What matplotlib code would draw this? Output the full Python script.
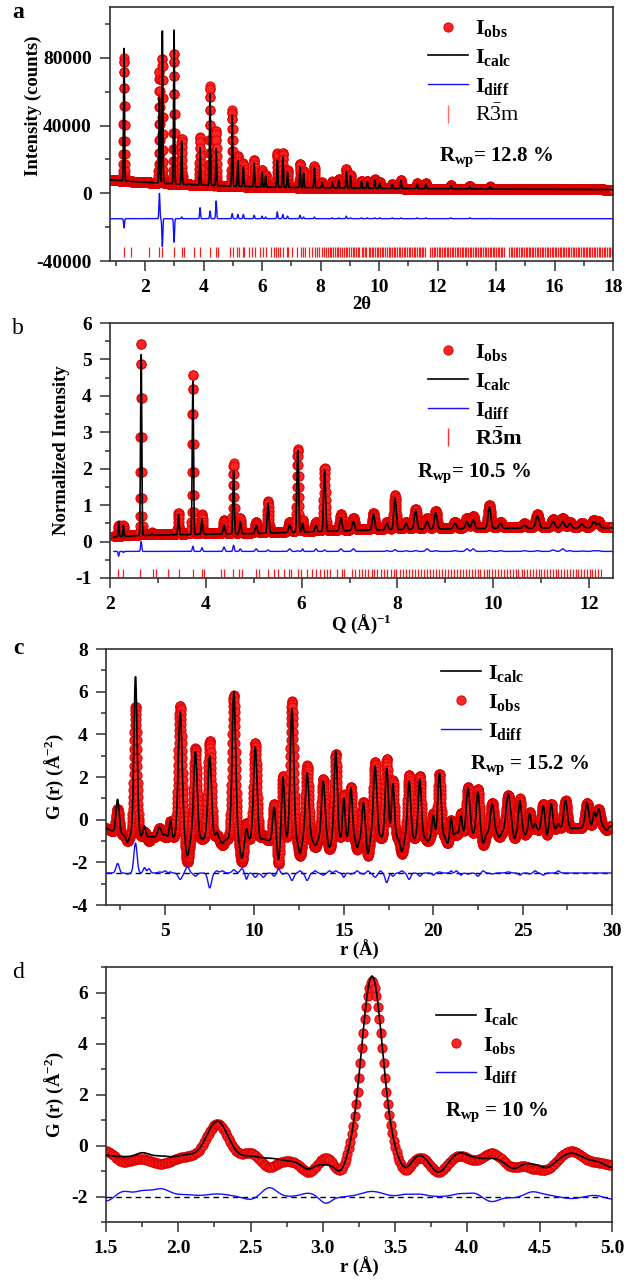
import numpy as np
import matplotlib
matplotlib.use('Agg')
import matplotlib.pyplot as plt
from matplotlib.lines import Line2D
from matplotlib.ticker import MultipleLocator, FormatStrFormatter

plt.rcParams['font.family'] = ['Liberation Serif', 'DejaVu Serif']
plt.rcParams['font.weight'] = 'bold'
plt.rcParams['mathtext.fontset'] = 'custom'
plt.rcParams['mathtext.rm'] = 'Liberation Serif:weight=normal'
plt.rcParams['mathtext.bf'] = 'Liberation Serif:bold'
plt.rcParams['mathtext.it'] = 'Liberation Serif:italic'
plt.rcParams['axes.unicode_minus'] = False

# ---------------- Panel a : XRD, 2theta ----------------
a_range = [0.8, 18.0]
a_step = 0.004
a_bg_x = [0.8, 1.5, 2.0, 3.0, 4.0, 5.0, 6.0, 8.0, 10.0, 14.0, 18.0]
a_bg_y = [8000, 7000, 6500, 5600, 4800, 4200, 3700, 3200, 2900, 2500, 2200]
a_pos = [1.28, 2.49, 2.59, 2.99, 3.25, 3.88, 4.22, 4.43, 4.98, 5.17, 5.36, 5.73,
         6.00, 6.12, 6.52, 6.71, 6.87, 7.30, 7.42, 7.79, 8.05, 8.40, 8.62, 8.88,
         9.02, 9.40, 9.60, 9.85, 10.02, 10.45, 10.75, 11.30, 11.60, 12.45, 13.10, 13.80]
a_obs = [80000, 72000, 80000, 83000, 32000, 33500, 63500, 37000, 49000, 22000, 18000, 20000,
         14000, 11000, 23500, 24000, 14000, 17500, 13000, 16000, 6500, 7000, 8500, 14500,
         11000, 7500, 7500, 8500, 6500, 5500, 8000, 6000, 6000, 5000, 4500, 4000]
a_calc = [85500, 57000, 96500, 97000, 31000, 27000, 59000, 26500, 46000, 19500, 15500, 18000,
          12500, 10000, 19500, 21500, 12500, 15500, 12000, 15000, 6500, 6500, 8000, 13000,
          10500, 7000, 7000, 8000, 6000, 5000, 7500, 5500, 5500, 4500, 4000, 3800]
a_width = 0.016
a_diff_offset = -15000
a_refl = [1.28, 1.51, 2.14, 2.49, 2.58, 2.99, 3.25, 3.33, 3.68, 3.88, 4.22, 4.43, 4.51,
          4.91, 4.99, 5.14, 5.21, 5.35, 5.39, 5.57, 5.65, 5.75, 5.94, 6.04, 6.14, 6.29,
          6.40, 6.49, 6.54, 6.61, 6.72, 6.84, 6.88, 7.03, 7.20, 7.32, 7.39, 7.46, 7.60,
          7.72, 7.81, 7.89, 7.96, 8.05, 8.12, 8.18, 8.24, 8.31, 8.36, 8.42, 8.49, 8.55,
          8.61, 8.66, 8.73, 8.80, 8.86, 8.91, 8.97, 9.04, 9.10, 9.15, 9.22, 9.28, 9.33,
          9.40, 9.46, 9.51, 9.57, 9.64, 9.69, 9.75, 9.81, 9.86, 9.93, 9.98, 10.04, 10.10,
          10.15, 10.21, 10.27, 10.33, 10.38, 10.44, 10.50, 10.55, 10.61, 10.67, 10.72,
          10.78, 10.84, 10.89, 10.95, 11.01, 11.06, 11.12, 11.18, 11.23, 11.29, 11.35,
          11.40, 11.46, 11.52, 11.57, 11.75, 11.81, 11.87, 11.92, 11.98, 12.04, 12.09,
          12.15, 12.21, 12.26, 12.32, 12.37, 12.43, 12.49, 12.54, 12.60, 12.66, 12.71,
          12.77, 12.82, 12.88, 12.94, 12.99, 13.05, 13.10, 13.16, 13.22, 13.27, 13.33,
          13.38, 13.44, 13.50, 13.55, 13.61, 13.66, 13.72, 13.78, 13.83, 13.89, 13.94,
          14.00, 14.06, 14.11, 14.17, 14.22, 14.28, 14.45, 14.50, 14.56, 14.62, 14.67,
          14.73, 14.78, 14.84, 14.89, 14.95, 15.01, 15.06, 15.12, 15.17, 15.23, 15.28,
          15.34, 15.40, 15.45, 15.51, 15.56, 15.62, 15.67, 15.73, 15.79, 15.84, 15.90,
          15.95, 16.01, 16.06, 16.12, 16.18, 16.23, 16.29, 16.34, 16.40, 16.45, 16.51,
          16.57, 16.62, 16.68, 16.73, 16.79, 16.84, 16.90, 16.96, 17.01, 17.07, 17.12,
          17.18, 17.23, 17.29, 17.35, 17.40, 17.46, 17.51, 17.57, 17.62, 17.68, 17.74,
          17.79, 17.85, 17.90, 17.96]

# ---------------- Panel b : neutron, Q ----------------
b_range = [2.08, 12.5]
b_step = 0.004
b_bg_x = [2.05, 2.5, 3.0, 4.0, 5.0, 6.0, 7.0, 8.0, 9.0, 10.0, 11.0, 12.5]
b_bg_y = [0.12, 0.16, 0.18, 0.20, 0.22, 0.26, 0.30, 0.33, 0.35, 0.36, 0.37, 0.38]
b_pos = [2.18, 2.28, 2.65, 2.88, 3.43, 3.73, 3.92, 4.38, 4.58, 4.72, 5.05, 5.30,
         5.75, 5.92, 6.02, 6.30, 6.48, 6.82, 7.08, 7.50, 7.78, 7.95, 8.18, 8.38,
         8.62, 8.80, 9.20, 9.45, 9.58, 9.92, 10.15, 10.65, 10.92, 11.25, 11.45, 11.60,
         11.85, 12.10, 12.20]
b_obs = [0.45, 0.45, 5.50, 0.25, 0.78, 4.62, 0.75, 0.60, 2.15, 0.65, 0.55, 1.12,
         0.55, 2.55, 0.60, 0.55, 2.02, 0.75, 0.65, 0.78, 0.55, 1.28, 0.55, 0.90,
         0.65, 0.85, 0.55, 0.65, 0.70, 1.00, 0.55, 0.50, 0.75, 0.62, 0.65, 0.55,
         0.52, 0.60, 0.55]
b_calc = [0.55, 0.45, 5.20, 0.22, 0.75, 4.45, 0.62, 0.45, 1.95, 0.55, 0.45, 1.05,
          0.45, 2.50, 0.50, 0.45, 1.95, 0.65, 0.55, 0.75, 0.50, 1.20, 0.50, 0.85,
          0.55, 0.80, 0.50, 0.55, 0.60, 0.95, 0.50, 0.45, 0.70, 0.55, 0.55, 0.50,
          0.48, 0.55, 0.50]
b_sig = [0.010, 0.010, 0.012, 0.012, 0.013, 0.013, 0.015, 0.018, 0.014, 0.016, 0.020, 0.018,
         0.025, 0.018, 0.015, 0.020, 0.020, 0.025, 0.025, 0.025, 0.025, 0.025, 0.025, 0.028,
         0.030, 0.028, 0.030, 0.030, 0.030, 0.030, 0.030, 0.035, 0.035, 0.035, 0.035, 0.030,
         0.035, 0.035, 0.030]
b_obs_bg_shift = 0.03
b_diff_offset = -0.3
b_refl = [2.17, 2.28, 2.63, 2.89, 2.95, 3.22, 3.43, 3.73, 3.92, 3.97, 4.32, 4.39, 4.57,
          4.70, 4.76, 5.04, 5.10, 5.29, 5.42, 5.50, 5.63, 5.73, 5.78, 5.92, 5.98, 6.11,
          6.22, 6.30, 6.39, 6.47, 6.54, 6.60, 6.73, 6.84, 6.89, 7.06, 7.11, 7.19, 7.25,
          7.32, 7.38, 7.47, 7.52, 7.58, 7.66, 7.72, 7.78, 7.86, 7.93, 7.98, 8.05, 8.11,
          8.18, 8.24, 8.31, 8.37, 8.42, 8.50, 8.56, 8.62, 8.69, 8.74, 8.81, 8.87, 8.92,
          9.00, 9.06, 9.12, 9.18, 9.25, 9.30, 9.37, 9.43, 9.50, 9.55, 9.61, 9.68, 9.73,
          9.80, 9.86, 9.92, 9.98, 10.04, 10.10, 10.16, 10.23, 10.29, 10.35, 10.41, 10.47,
          10.52, 10.59, 10.65, 10.71, 10.77, 10.83, 10.89, 10.95, 11.00, 11.07, 11.13,
          11.18, 11.24, 11.30, 11.36, 11.42, 11.48, 11.54, 11.60, 11.66, 11.72, 11.77,
          11.83, 11.89, 11.95, 12.01, 12.07, 12.13, 12.19, 12.25]

# ---------------- Panel c : PDF G(r), 1.7-30 A ----------------
c_range = [1.7, 30.0]
c_step = 0.01
c_bg_x = [1.7, 2.5, 4.0, 12.0, 20.0, 30.0]
c_bg_y = [-0.4, -0.7, -0.8, -1.0, -0.8, -0.3]
c_pos = [2.35, 2.90, 3.35, 3.85, 4.10, 4.70, 5.00, 5.30, 5.85, 6.25, 6.70, 7.05, 7.50,
         7.90, 8.20, 8.85, 9.30, 9.55, 10.05, 10.50, 11.10, 11.35, 11.60, 12.10, 12.55,
         12.95, 13.40, 13.85, 14.20, 14.55, 15.00, 15.40, 15.75, 16.10, 16.35, 16.75,
         17.05, 17.40, 17.75, 18.25, 18.65, 18.95, 19.25, 19.70, 20.00, 20.35, 20.80,
         21.00, 21.30, 21.55, 21.95, 22.50, 22.80, 23.30, 23.70, 24.20, 24.55, 24.85,
         25.15, 25.40, 25.70, 26.15, 26.35, 26.60, 27.00, 27.40, 27.90, 28.60, 29.00,
         29.25, 29.70]
c_obs = [0.50, -1.00, 5.30, -0.55, -1.00, -0.40, -0.80, -0.05, 5.35, -2.00, 3.35, -0.90, 3.70,
         -0.70, -1.20, 5.85, -2.00, -0.10, 3.60, -0.70, 0.75, -2.10, 2.05, 5.55, -1.70,
         2.55, -1.30, 1.90, -1.40, 3.10, 1.20, 1.55, -1.40, 0.85, -1.70, 2.70,
         -0.90, 2.85, 1.85, -1.60, 2.10, -0.90, 2.05, -1.00, 0.30, 2.15, -1.10,
         0.00, -0.70, 0.30, 1.55, 1.45, -1.20, 0.80, -0.80, 1.15, -0.90, 1.00,
         -0.70, 0.35, -0.30, 0.75, -0.80, 0.75, -0.30, 0.90, -0.40, 0.80, 0.30,
         0.50, -0.50]
c_calc = [0.95, -1.05, 6.70, -0.30, -0.80, -0.35, -0.70, 0.00, 5.05, -1.70, 3.20, -0.90, 3.00,
          -0.60, -1.10, 6.00, -1.80, -0.40, 3.40, -0.90, 0.60, -1.90, 2.00, 5.20, -1.60,
          2.20, -1.20, 1.80, -1.30, 3.20, 1.00, 1.50, -1.30, 0.80, -1.60, 2.50,
          -0.80, 2.40, 1.70, -1.50, 1.80, -0.90, 1.90, -1.00, 0.20, 2.20, -1.10,
          0.10, -0.60, 0.20, 1.50, 1.30, -1.10, 0.75, -0.80, 1.20, -0.90, 0.90,
          -0.70, 0.30, -0.20, 0.65, -0.80, 0.75, -0.20, 0.90, -0.40, 0.80, 0.30,
          0.50, -0.50]
c_sig = [0.09, 0.08, 0.09, 0.07, 0.08, 0.10, 0.08, 0.06, 0.11, 0.10, 0.10, 0.08, 0.10,
         0.08, 0.10, 0.10, 0.10, 0.07, 0.10, 0.10, 0.08, 0.07, 0.08, 0.10, 0.08,
         0.10, 0.08, 0.10, 0.08, 0.09, 0.07, 0.08, 0.07, 0.08, 0.07, 0.10,
         0.07, 0.09, 0.08, 0.09, 0.09, 0.07, 0.09, 0.10, 0.07, 0.09, 0.08,
         0.06, 0.07, 0.07, 0.10, 0.09, 0.08, 0.10, 0.08, 0.12, 0.07, 0.08,
         0.07, 0.07, 0.08, 0.09, 0.06, 0.08, 0.08, 0.10, 0.09, 0.10, 0.07,
         0.10, 0.08]
c_diff_offset = -2.5

# ---------------- Panel d : PDF G(r), 1.5-5 A ----------------
d_range = [1.5, 5.0]
d_step = 0.01
d_base = -0.55
d_pos = [1.50, 1.62, 1.75, 1.88, 2.05, 2.27, 2.50, 2.63, 2.77, 2.90, 3.02, 3.12, 3.34,
         3.57, 3.67, 3.80, 3.95, 4.05, 4.17, 4.32, 4.45, 4.55, 4.72, 4.88, 5.00]
d_obs = [-0.20, -0.65, -0.50, -0.72, -0.45, 0.85, -0.30, -0.85, -0.60, -1.05, -0.45, -1.02, 6.45,
         -1.00, -0.45, -1.05, -0.40, -0.62, -0.30, -0.85, -0.85, -0.90, -0.22, -0.65, -0.75]
d_calc = [-0.39, -0.45, -0.30, -0.42, -0.38, 0.95, -0.42, -0.50, -0.60, -0.92, -0.72, -1.04, 6.65,
          -0.92, -0.36, -1.05, -0.29, -0.50, -0.50, -0.90, -0.67, -0.85, -0.30, -0.60, -0.85]
d_sig = [0.05, 0.05, 0.05, 0.06, 0.06, 0.075, 0.05, 0.05, 0.05, 0.05, 0.04, 0.04, 0.072,
         0.04, 0.045, 0.05, 0.05, 0.04, 0.05, 0.05, 0.05, 0.05, 0.06, 0.05, 0.05]
d_diff_offset = -2.0


def peaks(x, base, pos, tops, sig):
    base_arr = np.broadcast_to(np.asarray(base, dtype=float), x.shape)
    y = np.array(base_arr, dtype=float)
    sig = np.broadcast_to(np.asarray(sig, float), np.shape(pos))
    for p, t, s in zip(pos, tops, sig):
        amp = t - np.interp(p, x, base_arr)
        y = y + amp * np.exp(-0.5 * ((x - p) / s) ** 2)
    return y


OBS = dict(linestyle='None', marker='o', ms=6.6, mfc='#ff2424', mec='#d80000', mew=0.7)
CALC = dict(color='black', lw=1.2)
DIFF = dict(color='#1010ff', lw=1.0)
RED = '#ff1a1a'

fig = plt.figure(figsize=(6.36, 12.8), dpi=100)


def add_ax(l, r, t, b):
    return fig.add_axes([l / 636, 1 - b / 1280, (r - l) / 636, (b - t) / 1280])


def style(ax, xmaj, xmin, ymaj, ymin):
    for s in ax.spines.values():
        s.set_color('#303030')
        s.set_linewidth(1.2)
    ax.xaxis.set_major_locator(MultipleLocator(xmaj))
    ax.xaxis.set_minor_locator(MultipleLocator(xmin))
    ax.yaxis.set_major_locator(MultipleLocator(ymaj))
    ax.yaxis.set_minor_locator(MultipleLocator(ymin))
    ax.tick_params(which='both', direction='out', top=False, right=False,
                   colors='#303030', labelcolor='black', labelsize=14, width=1.1)
    ax.tick_params(which='major', length=7, pad=6)
    ax.tick_params(which='minor', length=3.5)
    for lab in ax.get_xticklabels() + ax.get_yticklabels():
        lab.set_fontweight('bold')


LAB = dict(fontsize=13.5, fontweight='bold')
LEG = dict(frameon=False, fontsize=16, handlelength=1.8, handletextpad=0.3,
           borderaxespad=0, numpoints=1)

# ---- a ----
axA = add_ax(110, 613, 7, 261)
xa = np.arange(a_range[0], a_range[1] + 1e-9, a_step)
bga = np.interp(xa, a_bg_x, a_bg_y)
obs_a = peaks(xa, bga, a_pos, a_obs, a_width)
calc_a = peaks(xa, bga, a_pos, a_calc, a_width)
axA.plot(xa, obs_a, zorder=2, **OBS)
axA.plot(xa, calc_a, zorder=3, **CALC)
axA.plot(xa, obs_a - calc_a + a_diff_offset, zorder=3, **DIFF)
axA.vlines(a_refl, -37500, -32000, color=RED, lw=0.9, zorder=2)
axA.set_xlim(0.8, 18)
axA.set_ylim(-40000, 110000)
style(axA, 2, 1, 40000, 20000)
axA.set_xlabel('2θ', labelpad=0, **LAB)
axA.set_ylabel('Intensity (counts)', **LAB)
axA.yaxis.set_label_coords(-0.135, 0.61)
hA = [Line2D([], [], **OBS), Line2D([], [], **CALC), Line2D([], [], **DIFF),
      Line2D([], [], linestyle='None', marker='|', ms=13, mew=1.0, color='#ff6a6a')]
axA.legend(hA, [r'$\mathbf{I_{obs}}$', r'$\mathbf{I_{calc}}$', r'$\mathbf{I_{diff}}$',
                r'$\mathrm{R\bar{3}m}$'],
           loc='upper left', bbox_to_anchor=(0.615, 0.99), labelspacing=0.35, **LEG)
axA.text(0.655, 0.41, r'$\mathbf{R_{wp}}$= 12.8 %', transform=axA.transAxes,
         fontsize=15, fontweight='bold', va='center')

# ---- b ----
axB = add_ax(110, 613, 323, 578)
xb = np.arange(b_range[0], b_range[1] + 1e-9, b_step)
bgb = np.interp(xb, b_bg_x, b_bg_y)
obs_b = peaks(xb, bgb + b_obs_bg_shift, b_pos, b_obs, b_sig)
calc_b = peaks(xb, bgb, b_pos, b_calc, b_sig)
axB.plot(xb, obs_b, zorder=2, **OBS)
axB.plot(xb, calc_b, zorder=3, **CALC)
axB.plot(xb, obs_b - calc_b + b_diff_offset, zorder=3, **DIFF)
axB.vlines(b_refl, -0.97, -0.75, color=RED, lw=0.9, zorder=2)
axB.set_xlim(2, 12.5)
axB.set_ylim(-1, 6)
style(axB, 2, 1, 1, 0.5)
axB.set_xlabel(r'Q (Å)$^{\mathbf{-1}}$', labelpad=0, **LAB)
axB.set_ylabel('Normalized Intensity', labelpad=4, **LAB)
hB = [Line2D([], [], **OBS), Line2D([], [], **CALC), Line2D([], [], **DIFF),
      Line2D([], [], linestyle='None', marker='|', ms=13, mew=1.0, color='#ff3030')]
axB.legend(hB, [r'$\mathbf{I_{obs}}$', r'$\mathbf{I_{calc}}$', r'$\mathbf{I_{diff}}$',
                r'$\mathbf{R\bar{3}m}$'],
           loc='upper left', bbox_to_anchor=(0.615, 0.96), labelspacing=0.35, **LEG)
axB.text(0.61, 0.41, r'$\mathbf{R_{wp}}$= 10.5 %', transform=axB.transAxes,
         fontsize=15, fontweight='bold', va='center')

# ---- c ----
axC = add_ax(106, 612, 649, 905)
xc = np.arange(c_range[0], c_range[1] + 1e-9, c_step)
bgc = np.interp(xc, c_bg_x, c_bg_y)
obs_c = peaks(xc, bgc, c_pos, c_obs, c_sig)
calc_c = peaks(xc, bgc, c_pos, c_calc, c_sig)
axC.plot(xc, obs_c, zorder=2, **OBS)
axC.plot(xc, calc_c, zorder=3, **CALC)
axC.axhline(c_diff_offset, color='black', lw=1.0, ls=(0, (4, 3)), zorder=3)
axC.plot(xc, calc_c - obs_c + c_diff_offset, zorder=4, **DIFF)
axC.set_xlim(1.7, 30)
axC.set_ylim(-4, 8)
style(axC, 5, 2.5, 2, 1)
axC.set_xlabel('r (Å)', labelpad=0, **LAB)
axC.set_ylabel(r'G (r) (Å$^{\mathbf{-2}}$)', labelpad=4, **LAB)
hC = [Line2D([], [], **CALC), Line2D([], [], **OBS), Line2D([], [], **DIFF)]
axC.legend(hC, [r'$\mathbf{I_{calc}}$', r'$\mathbf{I_{obs}}$', r'$\mathbf{I_{diff}}$'],
           loc='upper left', bbox_to_anchor=(0.645, 0.98), labelspacing=0.35, **LEG)
axC.text(0.72, 0.545, r'$\mathbf{R_{wp}}$ = 15.2 %', transform=axC.transAxes,
         fontsize=15, fontweight='bold', va='center')

# ---- d ----
axD = add_ax(106, 612, 967, 1222)
xd = np.arange(d_range[0], d_range[1] + 1e-9, d_step)
obs_d = peaks(xd, d_base, d_pos, d_obs, d_sig)
calc_d = peaks(xd, d_base, d_pos, d_calc, d_sig)
axD.plot(xd, obs_d, zorder=2, **OBS)
axD.plot(xd, calc_d, zorder=3, **CALC)
axD.axhline(d_diff_offset, color='black', lw=1.0, ls=(0, (4, 3)), zorder=3)
axD.plot(xd, calc_d - obs_d + d_diff_offset, zorder=4, **DIFF)
axD.set_xlim(1.5, 5.0)
axD.set_ylim(-3, 7)
style(axD, 0.5, 0.25, 2, 1)
axD.xaxis.set_major_formatter(FormatStrFormatter('%.1f'))
axD.set_xlabel('r (Å)', labelpad=0, **LAB)
axD.set_ylabel(r'G (r) (Å$^{\mathbf{-2}}$)', labelpad=4, **LAB)
hD = [Line2D([], [], **CALC), Line2D([], [], **OBS), Line2D([], [], **DIFF)]
axD.legend(hD, [r'$\mathbf{I_{calc}}$', r'$\mathbf{I_{obs}}$', r'$\mathbf{I_{diff}}$'],
           loc='upper left', bbox_to_anchor=(0.635, 0.88), labelspacing=0.35, **LEG)
axD.text(0.67, 0.43, r'$\mathbf{R_{wp}}$ = 10 %', transform=axD.transAxes,
         fontsize=15, fontweight='bold', va='center')

for lab, y, w in [('a', 13, 'bold'), ('b', 329, 'normal'), ('c', 648, 'bold'), ('d', 972, 'normal')]:
    fig.text(18 / 636, 1 - y / 1280, lab, fontsize=17, fontweight=w, ha='center', va='center')

fig.savefig('out.png', dpi=100)
